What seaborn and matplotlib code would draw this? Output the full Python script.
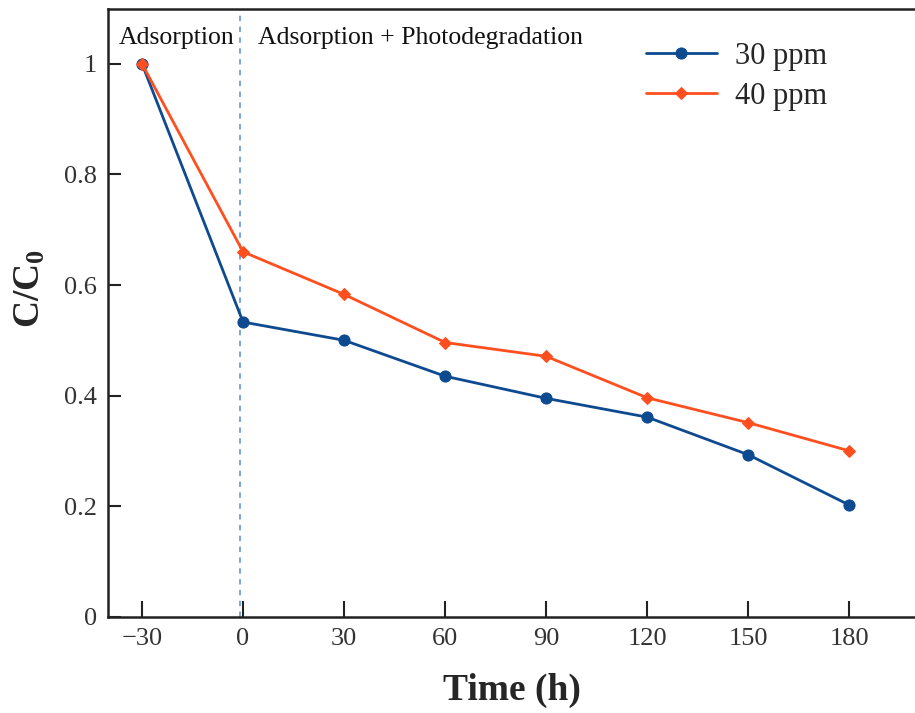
import matplotlib
matplotlib.use("Agg")
import matplotlib.pyplot as plt
import seaborn as sns
import pandas as pd

time_h = [-30, 0, 30, 60, 90, 120, 150, 180]
c30 = [1.0, 0.533, 0.500, 0.435, 0.395, 0.361, 0.293, 0.202]
c40 = [1.0, 0.660, 0.583, 0.496, 0.471, 0.396, 0.351, 0.300]
series_labels = ["30 ppm", "40 ppm"]
x_ticks = [-30, 0, 30, 60, 90, 120, 150, 180]
y_ticks = [0, 0.2, 0.4, 0.6, 0.8, 1.0]
y_tick_labels = ["0", "0.2", "0.4", "0.6", "0.8", "1"]

sns.set_style("ticks")
plt.rcParams["font.family"] = ["Liberation Serif", "DejaVu Serif"]
plt.rcParams["mathtext.fontset"] = "custom"
plt.rcParams["mathtext.rm"] = "Liberation Serif"
plt.rcParams["mathtext.bf"] = "Liberation Serif:bold"
plt.rcParams["axes.unicode_minus"] = True

blue = "#0d4a8f"
orange = "#ff4f1f"

fig = plt.figure(figsize=(9.15, 7.13), dpi=100)
ax = fig.add_axes([0.1184, 0.135, 0.8816, 0.853])

df30 = pd.DataFrame({"t": time_h, "c": c30})
df40 = pd.DataFrame({"t": time_h, "c": c40})

ax.axvline(-1, color="#6d9fdc", linestyle=(0, (3, 3)), linewidth=1.3, zorder=1)

sns.lineplot(data=df30, x="t", y="c", ax=ax, color=blue, marker="o",
             markersize=8, markeredgecolor=blue, linewidth=2.0, label=series_labels[0], zorder=3)
sns.lineplot(data=df40, x="t", y="c", ax=ax, color=orange, marker="D",
             markersize=6, markeredgecolor=orange, linewidth=2.0, label=series_labels[1], zorder=4)

ax.set_xlim(-40, 199.5)
ax.set_ylim(0, 1.1)
ax.set_xticks(x_ticks)
ax.set_xticklabels([("\u2212" + str(-v)) if v < 0 else str(v) for v in x_ticks])
ax.set_yticks(y_ticks)
ax.set_yticklabels(y_tick_labels)
ax.tick_params(axis="x", which="major", bottom=True, top=False, direction="in", length=11.5, width=1.5,
               labelsize=19, pad=8, color="#222222", labelcolor="#333333")
ax.tick_params(axis="y", which="major", left=True, right=False, direction="in", length=9.5, width=1.5,
               labelsize=19, pad=8, color="#222222", labelcolor="#333333")
ax.minorticks_off()

for s in ["left", "bottom", "top"]:
    ax.spines[s].set_linewidth(1.8)
    ax.spines[s].set_color("#222222")
ax.spines["right"].set_visible(False)

ax.set_xlabel("Time (h)", fontsize=27, fontweight="bold")
ax.xaxis.set_label_coords(0.5, -0.092)
ax.set_ylabel(r"$\mathbf{C/C_0}$", fontsize=27)
ax.yaxis.set_label_coords(-0.075, 0.54)

ax.text(-36.9, 1.046, "Adsorption", fontsize=18.5, va="center", ha="left", color="#111111")
ax.text(4.5, 1.046, "Adsorption + Photodegradation", fontsize=18.5, va="center", ha="left", color="#111111")

leg = ax.legend(loc="upper right", bbox_to_anchor=(0.925, 0.99), frameon=False, fontsize=22,
                handlelength=2.3, handletextpad=0.6, labelspacing=0.35)

fig.savefig("out.png", dpi=100)
